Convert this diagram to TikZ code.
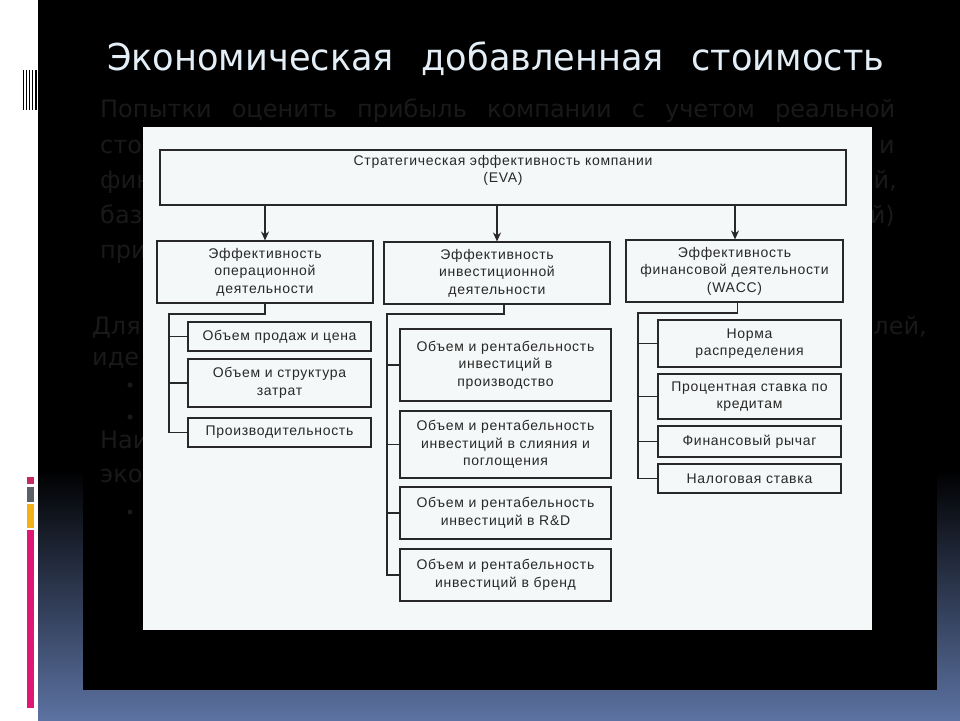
\documentclass[tikz,border=0pt]{standalone}
\usepackage{fontspec}
\usetikzlibrary{arrows.meta}
\setmainfont{Liberation Sans}
\newfontfamily\slidefont{DejaVu Sans}
\newfontfamily\headfont[FakeStretch=0.95]{DejaVu Sans}
\newfontfamily\chartfont[LetterSpace=5]{Liberation Sans}
\definecolor{slideblue}{RGB}{92,114,162}
\definecolor{ghost}{RGB}{25,25,25}
\definecolor{titlecol}{RGB}{228,238,246}
\definecolor{paper}{RGB}{245,248,248}
\definecolor{ink}{RGB}{40,40,40}
\definecolor{barcrimson}{RGB}{196,42,100}
\definecolor{bargray}{RGB}{90,96,104}
\definecolor{baryellow}{RGB}{242,176,26}
\definecolor{barpink}{RGB}{222,24,116}

\begin{document}
\begin{tikzpicture}[x=1pt, y=-1pt,
    box/.style={draw=ink, fill=paper, rectangle, line width=1.1pt, align=center, inner sep=0pt, text=ink, font=\chartfont\fontsize{14}{17.5}\selectfont},
    arrow/.style={->, line width=1.8pt, >={Stealth[length=9pt,width=8pt]}, draw=ink},
    link/.style={line width=1.1pt, draw=ink},
    ghosttext/.style={text=ghost, font=\slidefont\fontsize{24}{30}\selectfont, inner sep=0pt}
]
\useasboundingbox (0,0) rectangle (960,720);

% slide background
\fill[black] (0,0) rectangle (960,720);
\shade[top color=black, bottom color=slideblue] (38,470) rectangle (960,720);
\fill[black] (83,80) rectangle (937,690);
\fill[white] (0,0) rectangle (38,720);

% marks on the left strip
\draw[black, line width=1pt] (23.5,70) -- (23.5,110);
\draw[black, line width=1pt] (26.5,70) -- (26.5,110);
\draw[black, line width=1pt] (29.5,70) -- (29.5,110);
\draw[black, line width=1pt] (32.5,70) -- (32.5,110);
\draw[black, line width=1.5pt] (36,70) -- (36,110);
\fill[barcrimson] (27,477) rectangle (34,484);
\fill[bargray] (27,487) rectangle (34,502);
\fill[baryellow] (27,504) rectangle (34,528);
\fill[barpink] (27,530) rectangle (34,708);

% title
\node[text=titlecol, font=\headfont\fontsize{37}{44}\selectfont, anchor=base west, inner sep=0pt] (title) at (107,70) {\makebox[777pt][s]{Экономическая добавленная стоимость}};

% text behind the picture
\node[ghosttext, anchor=base west] (g1) at (100,117) {\makebox[795pt][s]{Попытки оценить прибыль компании с учетом реальной}};
\node[ghosttext, anchor=base west] (g2a) at (100,153) {сто};
\node[ghosttext, anchor=base east] (g2b) at (895,153) {и};
\node[ghosttext, anchor=base west] (g3a) at (100,188) {фин};
\node[ghosttext, anchor=base east] (g3b) at (897,188) {й,};
\node[ghosttext, anchor=base west] (g4a) at (100,223) {баз};
\node[ghosttext, anchor=base east] (g4b) at (895,223) {й)};
\node[ghosttext, anchor=base west] (g5a) at (100,258) {при};
\node[ghosttext, anchor=base west] (g6a) at (92,334) {Для};
\node[ghosttext, anchor=base east] (g6b) at (927,334) {лей,};
\node[ghosttext, anchor=base west] (g7a) at (92,365) {иде};
\node[ghosttext, anchor=base west] (g8a) at (100,448) {Наи};
\node[ghosttext, anchor=base west] (g9a) at (100,482) {эко};
\fill[ghost] (130,385) circle (2.5);
\fill[ghost] (130,417) circle (2.5);
\fill[ghost] (130,512) circle (2.5);

% picture
\fill[paper] (143,127) rectangle (872,630);

% EVA
\node[box, minimum width=686, minimum height=55] (eva) at (503,177.5) {Стратегическая эффективность компании\\(EVA)\\\mbox{}};

% second level
\node[box, minimum width=216, minimum height=62] (op) at (265,272) {Эффективность\\операционной\\деятельности};
\node[box, minimum width=226, minimum height=62] (inv) at (497,273) {Эффективность\\инвестиционной\\деятельности};
\node[box, minimum width=217, minimum height=62] (fin) at (734.5,271) {Эффективность\\финансовой деятельности\\(WACC)};
\draw[arrow] (eva.south -| op.north) -- (op.north);
\draw[arrow] (eva.south -| inv.north) -- (inv.north);
\draw[arrow] ([xshift=0.5pt]eva.south -| fin.north) -- ([xshift=0.5pt]fin.north);

% operating
\node[box, minimum width=183, minimum height=29] (op1) at (279.5,336.5) {Объем продаж и цена};
\node[box, minimum width=183, minimum height=48] (op2) at (279.5,383) {Объем и структура\\затрат};
\node[box, minimum width=183, minimum height=29] (op3) at (279.5,432.5) {Производительность};
\coordinate (opbus) at (169,314);
\draw[link] (op.south) |- (opbus) |- (op3.west);
\draw[link] (opbus |- op1.west) -- (op1.west);
\draw[link] (opbus |- op2.west) -- (op2.west);

% investment
\node[box, minimum width=211, minimum height=72] (inv1) at (505.5,365) {Объем и рентабельность\\инвестиций в\\производство};
\node[box, minimum width=211, minimum height=67] (inv2) at (505.5,444.5) {Объем и рентабельность\\инвестиций в слияния и\\поглощения};
\node[box, minimum width=211, minimum height=52] (inv3) at (505.5,513) {Объем и рентабельность\\инвестиций в R\&D};
\node[box, minimum width=211, minimum height=52] (inv4) at (505.5,575) {Объем и рентабельность\\инвестиций в бренд};
\coordinate (invbus) at (387,314);
\draw[link] ([xshift=7pt]inv.south) |- (invbus) |- (inv4.west);
\draw[link] (invbus |- inv1.west) -- (inv1.west);
\draw[link] (invbus |- inv2.west) -- (inv2.west);
\draw[link] (invbus |- inv3.west) -- (inv3.west);

% financing
\node[box, minimum width=183, minimum height=47] (fin1) at (749.5,343.5) {Норма\\распределения};
\node[box, minimum width=183, minimum height=45] (fin2) at (749.5,396.5) {Процентная ставка по\\кредитам};
\node[box, minimum width=183, minimum height=31] (fin3) at (749.5,441.5) {Финансовый рычаг};
\node[box, minimum width=183, minimum height=29] (fin4) at (749.5,478.5) {Налоговая ставка};
\coordinate (finbus) at (638,313);
\draw[link] ([xshift=3pt]fin.south) |- (finbus) |- (fin4.west);
\draw[link] (finbus |- fin1.west) -- (fin1.west);
\draw[link] (finbus |- fin2.west) -- (fin2.west);
\draw[link] (finbus |- fin3.west) -- (fin3.west);

\end{tikzpicture}
\end{document}
